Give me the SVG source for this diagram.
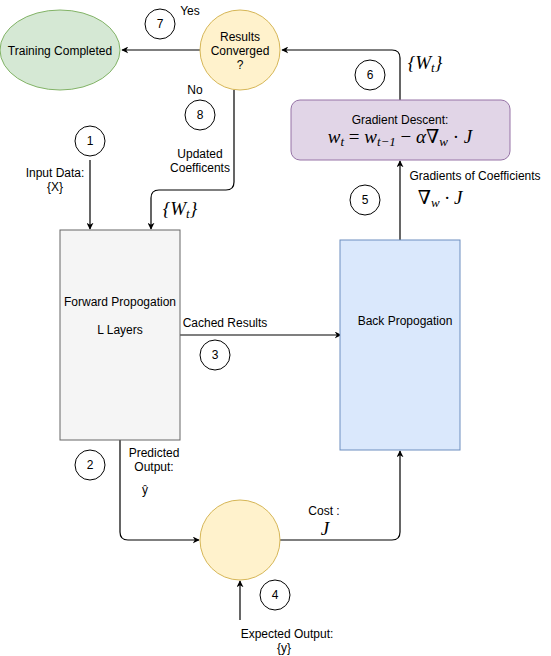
<svg xmlns="http://www.w3.org/2000/svg" width="551" height="656" viewBox="0 0 551 656">
<defs>
<marker id="arr" viewBox="0 0 10 10" refX="9" refY="5" markerWidth="7" markerHeight="7" orient="auto" markerUnits="userSpaceOnUse">
<path d="M0,0 L10,5 L0,10 L3,5 z" fill="#000"/>
</marker>
<style>
text{font-family:"Liberation Sans",Arial,sans-serif;font-size:12px;fill:#000;text-anchor:middle}
.lbl{font-size:12px}
.math{font-family:"Liberation Serif","DejaVu Serif",serif;font-style:italic;font-size:19px}
.num{fill:#fff;stroke:#000;stroke-width:1}
.conn{fill:none;stroke:#000;stroke-width:1.2;marker-end:url(#arr)}
</style>
</defs>
<rect width="551" height="656" fill="#fff"/>

<g id="connectors">
<path class="conn" d="M200,50 L122,50"/>
<path class="conn" d="M400,100 L400,58 Q400,50 392,50 L282,50"/>
<path class="conn" d="M234,90 L234,182 Q234,190 226,190 L159,190 Q151,190 151,198 L151,229"/>
<path class="conn" d="M90,160 L90,229"/>
<path class="conn" d="M180,335 L341,335"/>
<path class="conn" d="M120,440 L120,532 Q120,540 128,540 L199,540"/>
<path class="conn" d="M280,540 L392,540 Q400,540 400,532 L400,451"/>
<path class="conn" d="M240,620 L240,581"/>
<path class="conn" d="M400,240 L400,161"/>
</g>

<g id="training-completed">
<ellipse cx="60" cy="50" rx="60" ry="40" fill="#d5e8d4" stroke="#82b366"/>
<text x="60" y="55">Training Completed</text>
</g>

<g id="results-converged">
<circle cx="240" cy="50" r="40" fill="#fff2cc" stroke="#d6b656"/>
<text x="240" y="41">Results</text>
<text x="240" y="55">Converged</text>
<text x="240" y="69">?</text>
</g>

<g id="gradient-descent">
<rect x="291" y="100" width="219" height="60" rx="9" fill="#e1d5e7" stroke="#9673a6"/>
<text x="400" y="124">Gradient Descent:</text>
<text class="math" x="400" y="143">w<tspan font-size="13" dy="3">t</tspan><tspan dy="-3" font-style="normal"> = </tspan>w<tspan font-size="13" dy="3">t−1</tspan><tspan dy="-3" font-style="normal"> − </tspan>α<tspan font-style="normal">∇</tspan><tspan font-size="13" dy="3">w</tspan><tspan dy="-3" font-style="normal"> · </tspan>J</text>
</g>

<g id="forward-propagation">
<rect x="60" y="230" width="120" height="210" fill="#f5f5f5" stroke="#666666"/>
<text x="120" y="306">Forward Propogation</text>
<text x="120" y="334">L Layers</text>
</g>

<g id="back-propagation">
<rect x="340" y="240" width="120" height="210" fill="#dae8fc" stroke="#6c8ebf"/>
<text x="405" y="325">Back Propogation</text>
</g>

<g id="cost">
<circle cx="240" cy="540" r="40" fill="#fff2cc" stroke="#d6b656"/>
</g>

<g id="step-numbers">
<circle class="num" cx="160" cy="24" r="15"/><text x="160" y="28">7</text>
<circle class="num" cx="200" cy="115" r="15"/><text x="200" y="119">8</text>
<circle class="num" cx="90" cy="141" r="15"/><text x="90" y="145">1</text>
<circle class="num" cx="370" cy="75" r="15"/><text x="370" y="79">6</text>
<circle class="num" cx="365" cy="200" r="15"/><text x="365" y="204">5</text>
<circle class="num" cx="215" cy="355" r="15"/><text x="215" y="359">3</text>
<circle class="num" cx="90" cy="465" r="15"/><text x="90" y="469">2</text>
<circle class="num" cx="275" cy="595" r="15"/><text x="275" y="599">4</text>
</g>

<g id="labels">
<text class="lbl" x="190" y="15">Yes</text>
<text class="lbl" x="195" y="94">No</text>
<text class="lbl" x="200" y="158">Updated</text>
<text class="lbl" x="200" y="172">Coefficents</text>
<text class="math" x="180" y="215" font-size="20" font-style="normal">{<tspan font-style="italic">W</tspan><tspan font-style="italic" font-size="13" dy="3">t</tspan><tspan dy="-3">}</tspan></text>
<text class="math" x="425" y="69" font-size="20" font-style="normal">{<tspan font-style="italic">W</tspan><tspan font-style="italic" font-size="13" dy="3">t</tspan><tspan dy="-3">}</tspan></text>
<text class="lbl" x="55" y="177">Input Data:</text>
<text class="lbl" x="55" y="191">{X}</text>
<text class="lbl" x="225" y="327">Cached Results</text>
<text class="lbl" x="154" y="457">Predicted</text>
<text class="lbl" x="154" y="471">Output:</text>
<text class="lbl" x="145" y="494">ŷ</text>
<text class="lbl" x="324" y="515">Cost :</text>
<text class="math" x="325" y="535">J</text>
<text class="lbl" x="287" y="638">Expected Output:</text>
<text class="lbl" x="284" y="652">{y}</text>
<text class="lbl" x="475" y="180">Gradients of Coefficients</text>
<text class="math" x="440" y="204" font-style="normal">∇<tspan font-style="italic" font-size="13" dy="3">w</tspan><tspan dy="-3"> · </tspan><tspan font-style="italic">J</tspan></text>
</g>
</svg>
